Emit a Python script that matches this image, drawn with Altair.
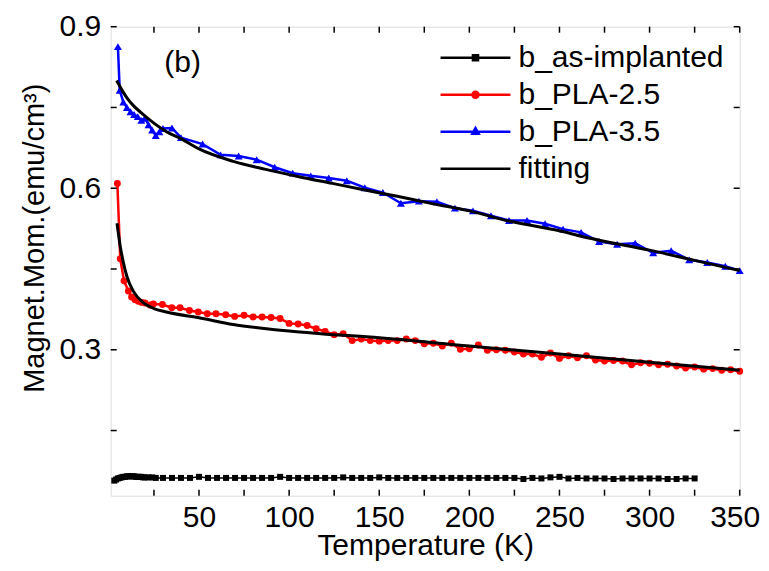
import altair as alt
import pandas as pd

# ---------------- data ----------------
asimp_T = [3, 4, 5, 6, 7, 8, 9, 10, 11, 12, 13, 14, 15, 16, 17, 18, 19, 20, 22, 24, 26,
           30, 35, 40, 45, 50, 55, 60, 65, 70, 75, 80, 85, 90, 95, 100, 105, 110, 115, 120,
           125, 130, 135, 140, 145, 150, 155, 160, 165, 170, 175, 180, 185, 190, 195, 200,
           205, 210, 215, 220, 225, 230, 235, 240, 245, 250, 255, 260, 265, 270, 275, 280,
           285, 290, 295, 300, 305, 310, 315, 320, 325]
asimp_M = [0.057, 0.059, 0.061, 0.062, 0.063, 0.064, 0.064, 0.065, 0.065, 0.065, 0.065,
           0.065, 0.064, 0.064, 0.064, 0.064, 0.063, 0.063, 0.063, 0.063, 0.062,
           0.062, 0.062, 0.062, 0.062, 0.064, 0.062, 0.062, 0.062, 0.062, 0.062, 0.062,
           0.062, 0.062, 0.064, 0.062, 0.062, 0.062, 0.062, 0.062, 0.062, 0.063, 0.062,
           0.062, 0.062, 0.063, 0.062, 0.062, 0.062, 0.062, 0.062, 0.062, 0.062, 0.062,
           0.062, 0.062, 0.062, 0.062, 0.062, 0.062, 0.062, 0.060, 0.062, 0.061, 0.063,
           0.064, 0.061, 0.062, 0.061, 0.061, 0.061, 0.060, 0.061, 0.061, 0.061, 0.061,
           0.061, 0.060, 0.060, 0.061, 0.061]

pla25_T = [4.7, 6.3, 8.4, 10.8, 12.6, 14.5, 16.3, 18.2, 20, 22.8, 24.7, 29.7, 34.9, 39.5,
           44.7, 49.6, 54.6, 59.4, 64.8, 69.8, 75, 80, 85, 90, 95, 100, 105, 110, 115, 120,
           125, 130, 135, 140, 145, 150, 155, 160, 165, 170, 175, 180, 185, 190, 195, 200,
           205, 210, 215, 220, 225, 230, 235, 240, 245, 250, 255, 260, 265, 270, 275, 280,
           285, 290, 295, 300, 305, 310, 315, 320, 325, 330, 335, 340, 345, 350]
pla25_M = [0.609, 0.469, 0.428, 0.409, 0.398, 0.393, 0.390, 0.388, 0.387, 0.383, 0.385,
           0.384, 0.378, 0.378, 0.373, 0.370, 0.367, 0.367, 0.365, 0.362, 0.364, 0.361,
           0.361, 0.360, 0.358, 0.349, 0.348, 0.345, 0.339, 0.334, 0.328, 0.330, 0.317,
           0.320, 0.317, 0.316, 0.317, 0.317, 0.320, 0.317, 0.311, 0.312, 0.307, 0.312,
           0.301, 0.302, 0.309, 0.299, 0.300, 0.299, 0.296, 0.292, 0.292, 0.286, 0.294,
           0.284, 0.289, 0.285, 0.289, 0.281, 0.279, 0.280, 0.279, 0.272, 0.276, 0.275,
           0.272, 0.273, 0.270, 0.266, 0.268, 0.264, 0.265, 0.262, 0.263, 0.260]

pla35_T = [5, 6, 8, 10, 12, 14, 16, 18, 20, 22, 24, 26, 28, 30, 35, 40, 52, 62, 72, 82,
           92, 102, 112, 122, 132, 142, 152, 162, 172, 182, 192, 202, 212, 222, 232, 242,
           252, 262, 272, 282, 292, 302, 312, 322, 332, 342, 350]
pla35_M = [0.863, 0.782, 0.760, 0.750, 0.742, 0.737, 0.733, 0.726, 0.730, 0.718, 0.708,
           0.698, 0.705, 0.711, 0.712, 0.694, 0.682, 0.662, 0.660, 0.653, 0.639, 0.628,
           0.623, 0.619, 0.614, 0.601, 0.592, 0.572, 0.576, 0.575, 0.563, 0.558, 0.549,
           0.540, 0.540, 0.534, 0.524, 0.518, 0.501, 0.496, 0.498, 0.480, 0.484, 0.467,
           0.462, 0.455, 0.447]

fit25_T = [4.5, 6.3, 8.1, 10, 13.7, 19.2, 24.7, 32, 50.6, 69, 87.5, 106, 124.4, 139.3,
           200, 250, 300, 350]
fit25_M = [0.535, 0.492, 0.461, 0.436, 0.408, 0.387, 0.377, 0.370, 0.359, 0.347, 0.339,
           0.333, 0.328, 0.325, 0.307, 0.292, 0.277, 0.262]

fit35_T = [4.3, 6, 8, 10, 14, 18, 23, 32, 40, 50, 69, 87, 106, 124, 140, 160, 180, 200,
           222, 250, 267, 300, 325, 350]
fit35_M = [0.800, 0.790, 0.778, 0.768, 0.752, 0.740, 0.726, 0.705, 0.692, 0.673, 0.650,
           0.635, 0.621, 0.609, 0.598, 0.585, 0.571, 0.558, 0.539, 0.521, 0.507, 0.485,
           0.466, 0.447]

x_ticks = [25, 50, 75, 100, 125, 150, 175, 200, 225, 250, 275, 300, 325, 350]
x_labels = [50, 100, 150, 200, 250, 300, 350]
y_ticks = [0.15, 0.3, 0.45, 0.6, 0.75, 0.9]
y_labels = [0.3, 0.6, 0.9]

legend_names = ["b_as-implanted", "b_PLA-2.5", "b_PLA-3.5", "fitting"]
legend_colors = ["#000000", "#ff0000", "#0000ff", "#000000"]

# ---------------- styling ----------------
FONT = "Liberation Sans"
W, H = 629, 469
TICK = 6

LINE = "M-2.33,0L2.33,0"
legend_shapes = [
    LINE + "M-0.17,-0.17L0.17,-0.17L0.17,0.17L-0.17,0.17Z",
    LINE + "M-0.2,0A0.2,0.2,0,1,0,0.2,0A0.2,0.2,0,1,0,-0.2,0Z",
    LINE + "M0,-0.24L0.21,0.13L-0.21,0.13Z",
    LINE,
]

xs = alt.Scale(domain=[1, 350], nice=False, zero=False)
ys = alt.Scale(domain=[0.029, 0.9], nice=False, zero=False)

x_axis = alt.Axis(values=x_labels, ticks=False, domain=False, grid=False,
                  labelFont=FONT, labelFontSize=30, labelColor="black", labelPadding=7,
                  labelFlush=True, labelFlushOffset=20, labelOverlap=False,
                  title="Temperature (K)", titleFont=FONT, titleFontSize=30,
                  titleFontWeight="normal", titleColor="black",
                  titleBaseline="alphabetic", titleY=59)
y_axis = alt.Axis(values=y_labels, format=".1f", ticks=False, domain=False, grid=False,
                  labelFont=FONT, labelFontSize=30, labelColor="black", labelPadding=10,
                  labelFlush=False, labelOverlap=False,
                  title="Magnet.Mom.(emu/cm³)", titleFont=FONT, titleFontSize=29,
                  titleFontWeight="normal", titleColor="black",
                  titleBaseline="middle", titleAlign="center", titleX=-76, titleY=211)


def X(field="T"):
    return alt.X(f"{field}:Q", scale=xs, axis=x_axis)


def Y(field="M"):
    return alt.Y(f"{field}:Q", scale=ys, axis=y_axis)


df_as = pd.DataFrame({"T": asimp_T, "M": asimp_M})
df_25 = pd.DataFrame({"T": pla25_T, "M": pla25_M})
df_35 = pd.DataFrame({"T": pla35_T, "M": pla35_M})
df_f25 = pd.DataFrame({"T": fit25_T, "M": fit25_M})
df_f35 = pd.DataFrame({"T": fit35_T, "M": fit35_M})
df_xt = pd.DataFrame({"T": x_ticks})
df_yt = pd.DataFrame({"M": y_ticks})

as_line = alt.Chart(df_as).mark_line(color="black", strokeWidth=1.5).encode(x=X(), y=Y())
as_pts = alt.Chart(df_as).mark_point(shape="square", filled=True, color="black",
                                     size=36, opacity=1).encode(x=X(), y=Y())
r_line = alt.Chart(df_25).mark_line(color="#ff0000", strokeWidth=2.5).encode(x=X(), y=Y())
r_pts = alt.Chart(df_25).mark_point(shape="circle", filled=True, color="#ff0000",
                                    size=48, opacity=1).encode(x=X(), y=Y())
b_line = alt.Chart(df_35).mark_line(color="#0000ff", strokeWidth=2.5).encode(x=X(), y=Y())
b_pts = alt.Chart(df_35).mark_point(shape="triangle-up", filled=True, color="#0000ff",
                                    size=64, opacity=1).encode(x=X(), y=Y())
f25 = alt.Chart(df_f25).mark_line(color="black", strokeWidth=3,
                                  interpolate="monotone").encode(x=X(), y=Y())
f35 = alt.Chart(df_f35).mark_line(color="black", strokeWidth=3,
                                  interpolate="monotone").encode(x=X(), y=Y())

tick_style = dict(color="black", strokeWidth=1.5)
xt_bot = alt.Chart(df_xt).mark_rule(**tick_style).encode(
    x=X(), y=alt.value(H), y2=alt.value(H - TICK))
xt_top = alt.Chart(df_xt).mark_rule(**tick_style).encode(
    x=X(), y=alt.value(0), y2=alt.value(TICK))
yt_left = alt.Chart(df_yt).mark_rule(**tick_style).encode(
    y=Y(), x=alt.value(0), x2=alt.value(TICK))
yt_right = alt.Chart(df_yt).mark_rule(**tick_style).encode(
    y=Y(), x=alt.value(W), x2=alt.value(W - TICK))

label_b = alt.Chart(pd.DataFrame({"a": [0]})).mark_text(
    text="(b)", font=FONT, fontSize=30, color="black", align="center", baseline="middle"
).encode(x=alt.value(72), y=alt.value(36))

leg = alt.Legend(orient="none", legendX=348.3, legendY=14.5, title=None, padding=0,
                 symbolSize=900, symbolStrokeWidth=2.5, labelFont=FONT, labelFontSize=30,
                 labelColor="black", labelOffset=26.5, rowPadding=5, labelLimit=400)

legend_df = pd.DataFrame({"series": legend_names, "T": [100] * 4, "M": [0.5] * 4})
legend_layer = alt.Chart(legend_df).transform_filter("false").mark_point(opacity=1).encode(
    x=X(), y=Y(),
    fill=alt.Fill("series:N", scale=alt.Scale(domain=legend_names, range=legend_colors),
                  legend=leg),
    stroke=alt.Stroke("series:N", scale=alt.Scale(domain=legend_names, range=legend_colors),
                      legend=leg),
    shape=alt.Shape("series:N", scale=alt.Scale(domain=legend_names, range=legend_shapes),
                    legend=leg),
)

chart = alt.layer(
    as_line, as_pts, r_line, r_pts, b_line, b_pts, f25, f35,
    xt_bot, xt_top, yt_left, yt_right, label_b, legend_layer
).properties(
    width=W, height=H,
    padding={"left": 102.7, "top": 18.7, "right": 21, "bottom": 67},
    autosize=alt.AutoSizeParams(type="none"),
).configure_view(stroke="black", strokeWidth=1.5).configure(background="white")

chart.save("out.html", embed_options={"renderer": "svg", "actions": False})
